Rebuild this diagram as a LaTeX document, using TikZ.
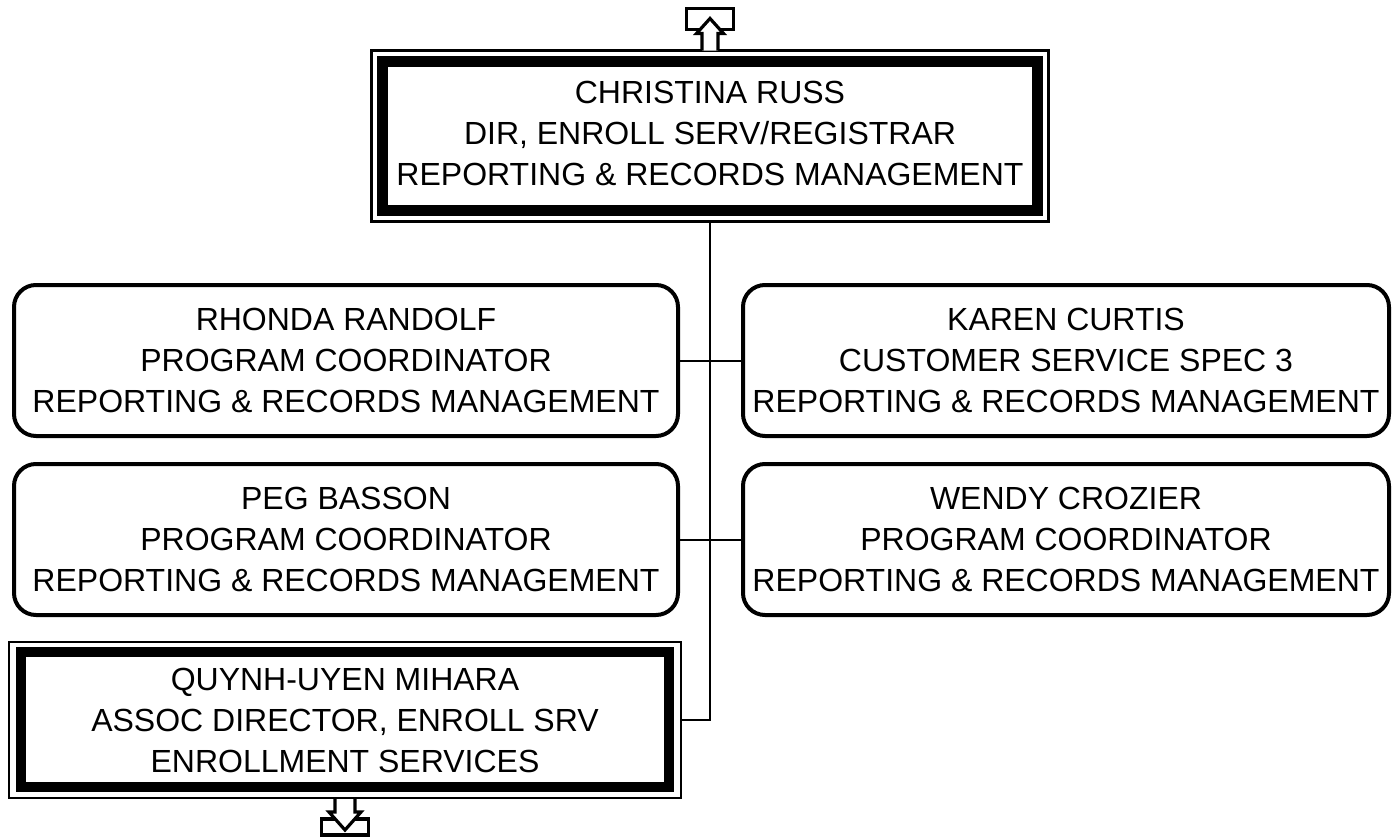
\documentclass[tikz,border=0pt]{standalone}
\usepackage{fontspec}
\setmainfont{Liberation Sans}
\begin{document}
\begin{tikzpicture}[x=1pt,y=-1pt,
  txt/.style={align=center,font=\fontsize{32}{41}\selectfont,inner sep=0pt,outer sep=0pt},
  roundbox/.style={txt,draw,line width=4pt,rounded corners=22pt,minimum width=664pt,minimum height=151pt},
  dblbox/.style={txt,draw,line width=2.5pt},
  band/.style={line width=10.5pt},
  conn/.style={line width=2pt},
  sym/.style={line width=3.2pt}]
\useasboundingbox (0,0) rectangle (1393,838);
\node[dblbox,minimum width=677pt,minimum height=171pt,text depth=5pt] (top) at (710,136) {CHRISTINA RUSS\\DIR, ENROLL SERV/REGISTRAR\\REPORTING \& RECORDS MANAGEMENT};
\draw[band] ([xshift=11pt,yshift=-11pt]top.north west) rectangle ([xshift=-11pt,yshift=11pt]top.south east);
\node[roundbox] (rhonda) at (346,360.5) {RHONDA RANDOLF\\PROGRAM COORDINATOR\\REPORTING \& RECORDS MANAGEMENT};
\node[roundbox] (peg) at (346,539.5) {PEG BASSON\\PROGRAM COORDINATOR\\REPORTING \& RECORDS MANAGEMENT};
\node[roundbox,minimum width=646pt] (karen) at (1066,360.5) {KAREN CURTIS\\CUSTOMER SERVICE SPEC 3\\REPORTING \& RECORDS MANAGEMENT};
\node[roundbox,minimum width=646pt] (wendy) at (1066,539.5) {WENDY CROZIER\\PROGRAM COORDINATOR\\REPORTING \& RECORDS MANAGEMENT};
\node[dblbox,minimum width=672pt,minimum height=156pt] (quynh) at (345,720) {QUYNH-UYEN MIHARA\\ASSOC DIRECTOR, ENROLL SRV\\ENROLLMENT SERVICES};
\draw[band] ([xshift=12pt,yshift=-10pt]quynh.north west) rectangle ([xshift=-12pt,yshift=11pt]quynh.south east);
\draw[conn] (top.south) |- (quynh.east);
\draw[conn] (rhonda.east) -- (karen.west);
\draw[conn] (peg.east) -- (wendy.west);
\begin{scope}[shift={(top.north)}]
  \draw[sym] (-23.5,-21) rectangle (23.5,-42);
  \filldraw[sym,fill=white,line join=miter] (-8,0) -- (-8,-17) -- (-13.5,-17) -- (0,-32) -- (13.5,-17) -- (8,-17) -- (8,0);
\end{scope}
\begin{scope}[shift={(quynh.south)}]
  \draw[sym] (-23.5,21) rectangle (23.5,37);
  \filldraw[sym,fill=white,line join=miter] (-10,1) -- (-10,14) -- (-16,14) -- (0,32) -- (16,14) -- (10,14) -- (10,1);
\end{scope}
\end{tikzpicture}
\end{document}
